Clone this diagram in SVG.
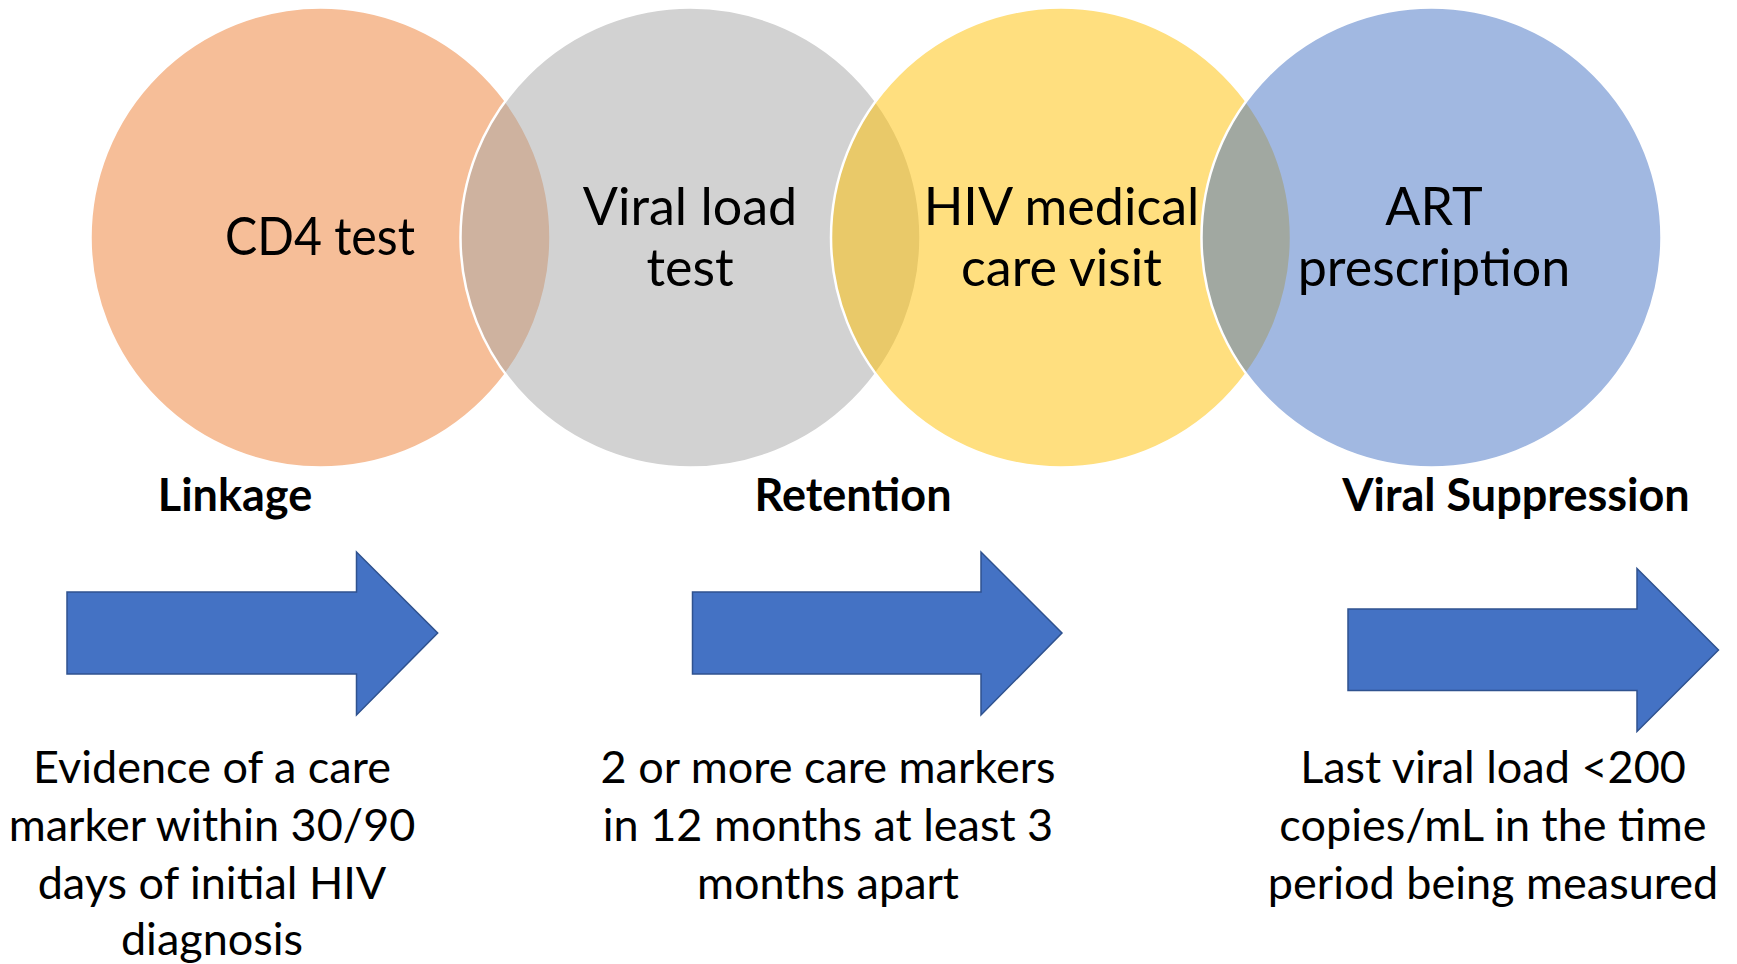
<svg xmlns="http://www.w3.org/2000/svg" width="1737" height="964" viewBox="0 0 1737 964">
<style>
.c{fill-opacity:0.5;stroke:#FFFFFF;stroke-width:2.5}
.t{font-family:Lato,"Open Sans",sans-serif;fill:#000;text-anchor:middle}
.ct{font-size:52px}
.lb{font-size:45px;font-weight:bold}
.bt{font-size:45px}
.ar{fill:#4472C4;stroke:#2F528F;stroke-width:1.5}
</style>
<rect width="1737" height="964" fill="#FFFFFF"/>
<g id="cd4">
<circle class="c" cx="320.5" cy="237.5" r="230" fill="#ED7D31"/>
</g>
<g id="viral-load">
<circle class="c" cx="690.5" cy="237.5" r="230" fill="#A5A5A5"/>
</g>
<g id="hiv-visit">
<circle class="c" cx="1061" cy="237.5" r="230" fill="#FFC000"/>
</g>
<g id="art">
<circle class="c" cx="1431.5" cy="237.5" r="230" fill="#4472C4"/>
</g>
<g id="circle-labels">
<text class="t ct" x="320" y="255" textLength="190" lengthAdjust="spacingAndGlyphs">CD4 test</text>
<text class="t ct" x="690" y="225">Viral load</text>
<text class="t ct" x="690" y="286">test</text>
<text class="t ct" x="1061.5" y="225">HIV medical</text>
<text class="t ct" x="1061.5" y="286">care visit</text>
<text class="t ct" x="1434" y="225">ART</text>
<text class="t ct" x="1434" y="286">prescription</text>
</g>
<g id="connectors">
<path class="ar" d="M67,592 H356.5 V552 L437.7,633 L356.5,715 V674 H67 Z"/>
<path class="ar" d="M692.5,592 H981 V552 L1062,633 L981,715 V674 H692.5 Z"/>
<path class="ar" d="M1348,609 H1637 V568.5 L1718.5,650 L1637,731.5 V690.5 H1348 Z"/>
</g>
<g id="linkage">
<text class="t lb" x="235" y="511">Linkage</text>
<text class="t bt" x="212" y="783">Evidence of a care</text>
<text class="t bt" x="212" y="841">marker within 30/90</text>
<text class="t bt" x="212" y="899">days of initial HIV</text>
<text class="t bt" x="212" y="955">diagnosis</text>
</g>
<g id="retention">
<text class="t lb" x="853" y="511">Retention</text>
<text class="t bt" x="828" y="783">2 or more care markers</text>
<text class="t bt" x="828" y="841">in 12 months at least 3</text>
<text class="t bt" x="828" y="899">months apart</text>
</g>
<g id="suppression">
<text class="t lb" x="1516" y="511">Viral Suppression</text>
<text class="t bt" x="1493" y="783">Last viral load &lt;200</text>
<text class="t bt" x="1493" y="841">copies/mL in the time</text>
<text class="t bt" x="1493" y="899">period being measured</text>
</g>
</svg>
